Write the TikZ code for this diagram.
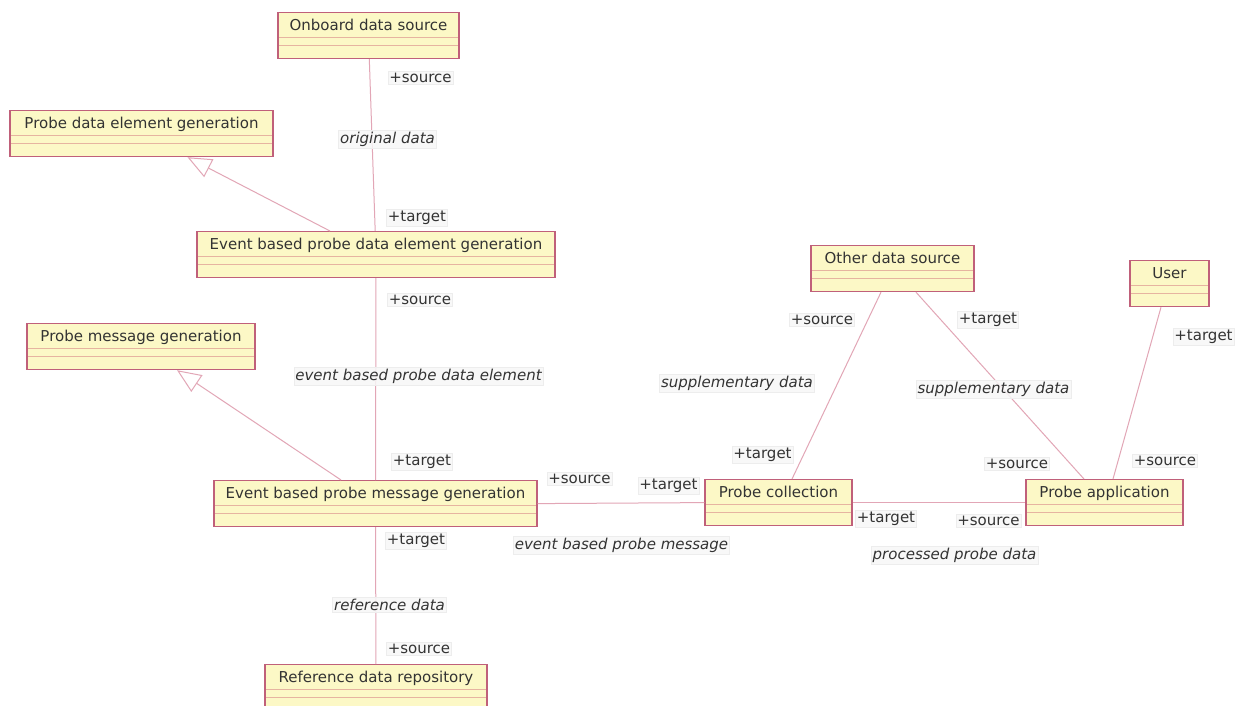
\documentclass[tikz,border=0pt]{standalone}
\usepackage{fontspec}
\setmainfont{DejaVu Sans}
\usetikzlibrary{arrows.meta}
\definecolor{boxfill}{HTML}{FCF8C6}
\definecolor{boxborder}{HTML}{C0607A}
\definecolor{sepcol}{HTML}{E6B4A0}
\definecolor{linecol}{HTML}{E2A6B6}
\definecolor{txtcol}{HTML}{333333}
\tikzset{
  umlbox/.style={draw=boxborder, line width=1.2pt, fill=boxfill, anchor=north,
    inner xsep=0pt, inner ysep=0pt, text height=18pt, text depth=28pt,
    font=\fontsize{15}{18}\selectfont, text=txtcol,
    path picture={
      \draw[sepcol, line width=0.9pt] ([yshift=-25pt]path picture bounding box.north west) -- ([yshift=-25pt]path picture bounding box.north east);
      \draw[sepcol, line width=0.9pt] ([yshift=-33pt]path picture bounding box.north west) -- ([yshift=-33pt]path picture bounding box.north east);
    }},
  role/.style={font=\fontsize{15}{18}\selectfont, text=txtcol, fill=black!3, draw=black!7,
    line width=0.5pt, inner sep=1.5pt, fill opacity=0.85, text opacity=1},
  flow/.style={role, font=\fontsize{15}{18}\selectfont\itshape},
  assoc/.style={linecol, line width=1pt},
  gen/.style={linecol, line width=1pt, -{Triangle[open, length=24pt, width=20pt, fill=white]}},
}
\begin{document}
\begin{tikzpicture}[x=1pt, y=-1pt]
\useasboundingbox (0,0) rectangle (1242,706);
\fill[white] (0,0) rectangle (1242,706);
\clip (0,0) rectangle (1242,706);

% boxes
\node[umlbox, minimum width=181pt] (ods) at (368.5,12) {Onboard data source};
\node[umlbox, minimum width=263pt] (pdeg) at (141.5,110) {Probe data element generation};
\node[umlbox, minimum width=358pt] (ebdeg) at (376,231) {Event based probe data element generation};
\node[umlbox, minimum width=228pt] (pmg) at (141,323) {Probe message generation};
\node[umlbox, minimum width=323pt] (ebpmg) at (375.5,480) {Event based probe message generation};
\node[umlbox, minimum width=222pt] (rdr) at (376,664) {Reference data repository};
\node[umlbox, minimum width=163pt] (oth) at (892.5,245) {Other data source};
\node[umlbox, minimum width=79pt] (user) at (1169.5,260) {User};
\node[umlbox, minimum width=147pt] (pc) at (778.5,479) {Probe collection};
\node[umlbox, minimum width=157pt] (pa) at (1104.5,479) {Probe application};

% connectors
\draw[assoc] (ods) -- (ebdeg);
\draw[assoc] (ebdeg) -- (ebpmg);
\draw[assoc] (ebpmg) -- (rdr);
\draw[gen] ([xshift=-46pt]ebdeg.north) -- ([xshift=46pt]pdeg.south);
\draw[gen] ([xshift=-34.5pt]ebpmg.north) -- ([xshift=36pt]pmg.south);
\draw[assoc] ([xshift=-11.5pt]oth.south) -- ([xshift=13.5pt]pc.north);
\draw[assoc] ([xshift=23.5pt]oth.south) -- ([xshift=-20.5pt]pa.north);
\draw[assoc] ([xshift=-8.5pt]user.south) -- ([xshift=8.5pt]pa.north);
\draw[assoc] (ebpmg.east) -- (pc.west);
\draw[assoc] (pc.east) -- (pa.west);

% labels
\node[role] (l1) at (420.5,78) {+source};
\node[flow] (l2) at (387.5,139) {original data};
\node[role] (l3) at (417,218) {+target};
\node[role] (l4) at (420,300) {+source};
\node[flow] (l5) at (418.5,376) {event based probe data element};
\node[role] (l6) at (422,462) {+target};
\node[role] (l7) at (416,541) {+target};
\node[flow] (l8) at (389.5,605) {reference data};
\node[role] (l9) at (419,649) {+source};
\node[role] (l10) at (579.5,479) {+source};
\node[role] (l11) at (668.5,486) {+target};
\node[flow] (l12) at (621.5,545) {event based probe message};
\node[role] (l13) at (886,519) {+target};
\node[role] (l14) at (988.5,521) {+source};
\node[flow] (l15) at (954.5,555) {processed probe data};
\node[role] (l16) at (822,320) {+source};
\node[flow] (l17) at (737,383) {supplementary data};
\node[role] (l18) at (762.5,455) {+target};
\node[role] (l19) at (988,320) {+target};
\node[flow] (l20) at (993.5,389) {supplementary data};
\node[role] (l21) at (1017,464) {+source};
\node[role] (l22) at (1165,461) {+source};
\node[role] (l23) at (1203.5,337) {+target};
\end{tikzpicture}
\end{document}
